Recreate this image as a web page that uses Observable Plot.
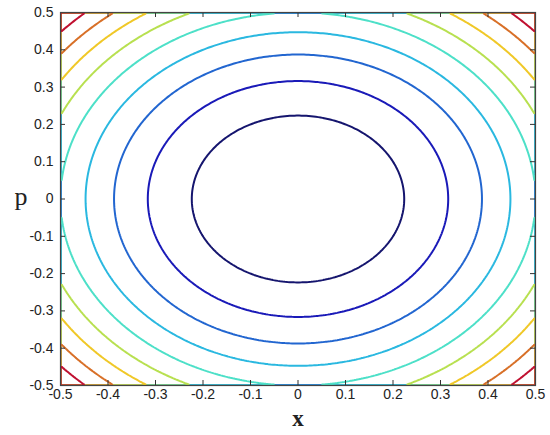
<!DOCTYPE html>
<html>
<head>
<meta charset="utf-8">
<script src="https://cdn.jsdelivr.net/npm/d3@7"></script>
<script src="https://cdn.jsdelivr.net/npm/@observablehq/plot@0.6"></script>
<style>
  html, body { margin: 0; padding: 0; background: #fff; }
  svg { display: block; }
</style>
</head>
<body>
<div id="chart"></div>
<script>
// contour levels of x^2 + p^2
const levels = [0.05, 0.10, 0.15, 0.20, 0.25, 0.30, 0.35, 0.40, 0.45];
const levelColors = ["#15156e", "#1a1ab8", "#2266d0", "#2ab8e0", "#4de0c8", "#b8e050", "#f0c828", "#d87028", "#c01030"];
const tickValues = [-0.5, -0.4, -0.3, -0.2, -0.1, 0, 0.1, 0.2, 0.3, 0.4, 0.5];
const tickLabels = ["-0.5", "-0.4", "-0.3", "-0.2", "-0.1", "0", "0.1", "0.2", "0.3", "0.4", "0.5"];
const xLabel = "x";
const yLabel = "p";

const W = 550, H = 435;
const mL = 60, mR = 15, mT = 12, mB = 50;
const innerH = H - mT - mB, innerW = W - mL - mR;
const tickLen = 5;
const fmt = d => tickLabels[tickValues.indexOf(d)];

const chart = Plot.plot({
  width: W,
  height: H,
  marginLeft: mL,
  marginRight: mR,
  marginTop: mT,
  marginBottom: mB,
  style: {fontFamily: "Arial, 'Liberation Sans', sans-serif", fontSize: "14px", color: "#222", background: "#fff"},
  x: {domain: [-0.5, 0.5]},
  y: {domain: [-0.5, 0.5]},
  color: {type: "ordinal", domain: levels, range: levelColors},
  marks: [
    Plot.contour({
      value: (x, y) => x * x + y * y,
      x1: -0.5, x2: 0.5, y1: -0.5, y2: 0.5,
      width: 200, height: 200,
      thresholds: levels,
      fill: "none",
      stroke: "value",
      strokeWidth: 2,
      clip: true
    }),
    Plot.axisX({ticks: tickValues, tickFormat: fmt, tickSize: 0, tickPadding: 4, label: null, fontSize: 14}),
    Plot.axisY({ticks: tickValues, tickFormat: fmt, tickSize: 0, tickPadding: 7, label: null, fontSize: 14}),
    // inward ticks on all four sides
    Plot.tickX(tickValues, {x: d => d, insetTop: innerH - tickLen, stroke: "#333"}),
    Plot.tickX(tickValues, {x: d => d, insetBottom: innerH - tickLen, stroke: "#333"}),
    Plot.tickY(tickValues, {y: d => d, insetRight: innerW - tickLen, stroke: "#333"}),
    Plot.tickY(tickValues, {y: d => d, insetLeft: innerW - tickLen, stroke: "#333"}),
    Plot.frame({stroke: "#444", strokeWidth: 1.2}),
    Plot.text([xLabel], {frameAnchor: "bottom", lineAnchor: "middle", dy: 33, text: d => d, fontFamily: "'Liberation Serif', 'Times New Roman', serif", fontWeight: "bold", fontSize: 23, fill: "#222"}),
    Plot.text([yLabel], {frameAnchor: "left", lineAnchor: "middle", dx: -46, dy: -2, text: d => d, fontFamily: "'Liberation Serif', 'Times New Roman', serif", fontSize: 26, fill: "#222"})
  ]
});
document.getElementById("chart").appendChild(chart);
</script>
</body>
</html>
